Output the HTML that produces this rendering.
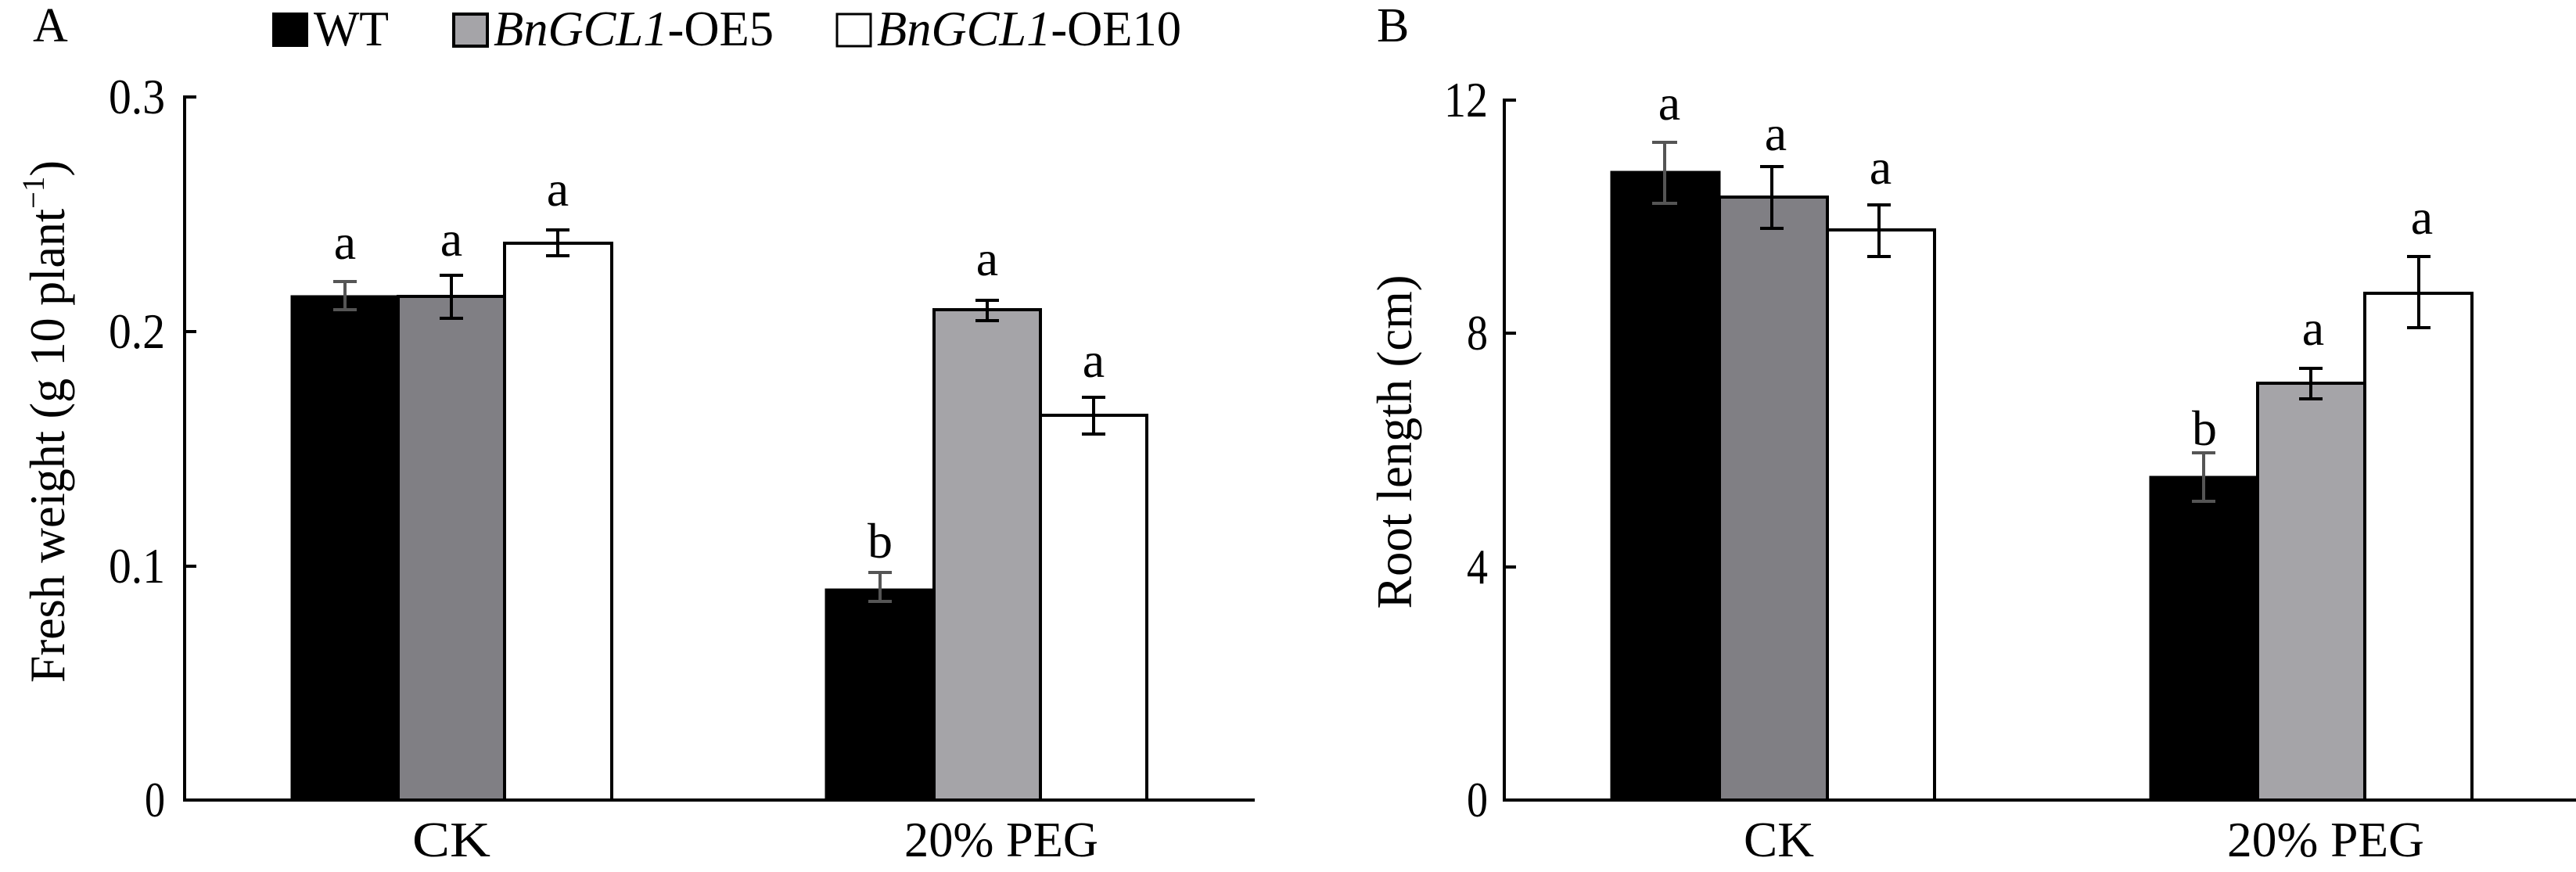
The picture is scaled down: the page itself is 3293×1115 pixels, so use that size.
<!DOCTYPE html>
<html><head><meta charset="utf-8"><style>
html,body{margin:0;padding:0;background:#fff;}
svg{display:block;}
text{font-family:"Liberation Serif",serif;fill:#000;}
</style></head><body>
<svg width="3293" height="1115" viewBox="0 0 3293 1115" xmlns="http://www.w3.org/2000/svg">
<!-- Panel labels -->
<text x="42" y="53" font-size="62">A</text>
<text x="1760" y="53" font-size="62">B</text>

<!-- Legend -->
<rect x="348" y="16" width="46" height="44" fill="#000"/>
<text x="401" y="58" font-size="64" textLength="96" lengthAdjust="spacingAndGlyphs">WT</text>
<rect x="580" y="18" width="43" height="41" fill="#a5a4a8" stroke="#000" stroke-width="4"/>
<text x="631" y="58" font-size="64" textLength="358" lengthAdjust="spacingAndGlyphs"><tspan font-style="italic">BnGCL1</tspan>-OE5</text>
<rect x="1070" y="18" width="43" height="41" fill="#fff" stroke="#000" stroke-width="3"/>
<text x="1121" y="58" font-size="64" textLength="389" lengthAdjust="spacingAndGlyphs"><tspan font-style="italic">BnGCL1</tspan>-OE10</text>

<!-- ===== Panel A ===== -->
<g stroke="#000" stroke-width="4" fill="none">
<line x1="236" y1="122" x2="236" y2="1025"/>
<line x1="234" y1="1023" x2="1604" y2="1023"/>
<line x1="236" y1="124" x2="251" y2="124"/>
<line x1="236" y1="424" x2="251" y2="424"/>
<line x1="236" y1="724" x2="251" y2="724"/>
</g>
<g font-size="64" text-anchor="end">
<text x="211" y="145" textLength="72" lengthAdjust="spacingAndGlyphs">0.3</text>
<text x="211" y="445" textLength="72" lengthAdjust="spacingAndGlyphs">0.2</text>
<text x="211" y="745" textLength="72" lengthAdjust="spacingAndGlyphs">0.1</text>
<text x="211" y="1044" textLength="26" lengthAdjust="spacingAndGlyphs">0</text>
</g>
<text transform="translate(82,539) rotate(-90)" font-size="64" text-anchor="middle" textLength="668" lengthAdjust="spacingAndGlyphs">Fresh weight (g 10 plant<tspan font-size="40" dy="-26">−1</tspan><tspan dy="26">)</tspan></text>

<!-- bars A -->
<rect x="373" y="379" width="136" height="644" fill="#000" stroke="#000" stroke-width="3"/>
<rect x="509" y="379" width="136" height="644" fill="#807f84" stroke="#000" stroke-width="4"/>
<rect x="645" y="311" width="137" height="712" fill="#fff" stroke="#000" stroke-width="4"/>
<rect x="1056" y="754" width="138" height="269" fill="#000" stroke="#000" stroke-width="3"/>
<rect x="1194" y="396" width="136" height="627" fill="#a5a4a8" stroke="#000" stroke-width="4"/>
<rect x="1330" y="531" width="136" height="492" fill="#fff" stroke="#000" stroke-width="4"/>
<!-- errors A -->
<g stroke-width="4" fill="none">
<path d="M441 360V396M426 360H456M426 396H456" stroke="#555"/>
<path d="M577 352V407M562 352H592M562 407H592" stroke="#000"/>
<path d="M713 294V327M698 294H728M698 327H728" stroke="#000"/>
<path d="M1125 732V769M1110 732H1140M1110 769H1140" stroke="#555"/>
<path d="M1262 384V410M1247 384H1277M1247 410H1277" stroke="#000"/>
<path d="M1398 508V555M1383 508H1413M1383 555H1413" stroke="#000"/>
</g>
<g font-size="64" text-anchor="middle">
<text x="441" y="331">a</text>
<text x="577" y="327">a</text>
<text x="713" y="263">a</text>
<text x="1125" y="713">b</text>
<text x="1262" y="352">a</text>
<text x="1398" y="482">a</text>
<text x="577" y="1095" textLength="100" lengthAdjust="spacingAndGlyphs">CK</text>
<text x="1280" y="1095" textLength="248" lengthAdjust="spacingAndGlyphs">20% PEG</text>
</g>

<!-- ===== Panel B ===== -->
<g stroke="#000" stroke-width="4" fill="none">
<line x1="1923" y1="126" x2="1923" y2="1025"/>
<line x1="1921" y1="1023" x2="3293" y2="1023"/>
<line x1="1923" y1="128" x2="1938" y2="128"/>
<line x1="1923" y1="426" x2="1938" y2="426"/>
<line x1="1923" y1="725" x2="1938" y2="725"/>
</g>
<g font-size="64" text-anchor="end">
<text x="1902" y="149" textLength="56" lengthAdjust="spacingAndGlyphs">12</text>
<text x="1902" y="447" textLength="27" lengthAdjust="spacingAndGlyphs">8</text>
<text x="1902" y="746" textLength="27" lengthAdjust="spacingAndGlyphs">4</text>
<text x="1902" y="1044" textLength="27" lengthAdjust="spacingAndGlyphs">0</text>
</g>
<text transform="translate(1804,565) rotate(-90)" font-size="64" text-anchor="middle" textLength="427" lengthAdjust="spacingAndGlyphs">Root length (cm)</text>

<rect x="2060" y="220" width="138" height="803" fill="#000" stroke="#000" stroke-width="3"/>
<rect x="2198" y="252" width="138" height="771" fill="#807f84" stroke="#000" stroke-width="4"/>
<rect x="2336" y="294" width="137" height="729" fill="#fff" stroke="#000" stroke-width="4"/>
<rect x="2749" y="610" width="137" height="413" fill="#000" stroke="#000" stroke-width="3"/>
<rect x="2886" y="490" width="137" height="533" fill="#a5a4a8" stroke="#000" stroke-width="4"/>
<rect x="3023" y="375" width="137" height="648" fill="#fff" stroke="#000" stroke-width="4"/>
<g stroke-width="4" fill="none">
<path d="M2128 182V260M2112 182H2144M2112 260H2144" stroke="#555"/>
<path d="M2265 213V292M2250 213H2280M2250 292H2280" stroke="#000"/>
<path d="M2402 262V328M2387 262H2417M2387 328H2417" stroke="#000"/>
<path d="M2817 579V641M2802 579H2832M2802 641H2832" stroke="#555"/>
<path d="M2954 471V510M2939 471H2969M2939 510H2969" stroke="#000"/>
<path d="M3092 328V419M3077 328H3107M3077 419H3107" stroke="#000"/>
</g>
<g font-size="64" text-anchor="middle">
<text x="2134" y="153">a</text>
<text x="2270" y="192">a</text>
<text x="2404" y="235">a</text>
<text x="2818" y="569">b</text>
<text x="2957" y="441">a</text>
<text x="3096" y="299">a</text>
<text x="2274" y="1095" textLength="90" lengthAdjust="spacingAndGlyphs">CK</text>
<text x="2973" y="1095" textLength="252" lengthAdjust="spacingAndGlyphs">20% PEG</text>
</g>
</svg>
</body></html>
